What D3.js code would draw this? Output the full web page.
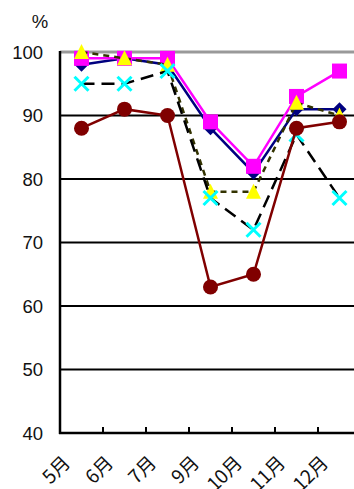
<!DOCTYPE html>
<html>
<head>
<meta charset="utf-8">
<script src="https://cdn.jsdelivr.net/npm/d3@7/dist/d3.min.js"></script>
<style>
  html, body { margin: 0; padding: 0; background: #fff; }
  svg { display: block; }
</style>
</head>
<body>
<svg id="chart" width="354" height="489"></svg>
<script>
// Monthly rates (%)
const months = ["5月", "6月", "7月", "9月", "10月", "11月", "12月"];
const yTicks = [40, 50, 60, 70, 80, 90, 100];

const navyValues    = [98, 99, 98, 88, 81, 91, 91];
const magentaValues = [99, 99, 99, 89, 82, 93, 97];
const yellowValues  = [100, 99, 98, 78, 78, 92, 90];
const cyanValues    = [95, 95, 97, 77, 72, 87, 77];
const maroonValues  = [88, 91, 90, 63, 65, 88, 89];

const svg = d3.select("#chart");
const W = 354, H = 489;
const plotLeft = 60, plotTop = 52, plotBottom = 433;

const x = d3.scaleBand().domain(months).range([plotLeft, plotLeft + 7 * 43]).padding(0);
const y = d3.scaleLinear().domain([40, 100]).range([plotBottom, plotTop]);

// Horizontal gridlines
svg.append("g")
  .selectAll("line")
  .data(yTicks.filter(t => t > 40))
  .join("line")
  .attr("x1", plotLeft).attr("x2", W)
  .attr("y1", d => y(d)).attr("y2", d => y(d))
  .attr("stroke", d => d === 100 ? "#999" : "#000")
  .attr("stroke-width", d => d === 100 ? 3 : 2);

// Y axis labels
svg.append("g")
  .selectAll("text")
  .data(yTicks)
  .join("text")
  .attr("x", 43)
  .attr("y", d => y(d) + 6.5)
  .attr("text-anchor", "end")
  .attr("font-family", "'Liberation Sans', Arial, sans-serif")
  .attr("font-size", 18.5)
  .attr("fill", "#111")
  .text(d => d);

svg.append("text")
  .attr("x", 40).attr("y", 28)
  .attr("text-anchor", "middle")
  .attr("font-family", "'Liberation Sans', Arial, sans-serif")
  .attr("font-size", 18.5)
  .attr("fill", "#111")
  .text("%");

// Axes lines
svg.append("line")
  .attr("x1", plotLeft).attr("x2", plotLeft)
  .attr("y1", plotTop - 1).attr("y2", plotBottom + 1)
  .attr("stroke", "#000").attr("stroke-width", 2.5);
svg.append("line")
  .attr("x1", plotLeft - 1).attr("x2", W)
  .attr("y1", plotBottom).attr("y2", plotBottom)
  .attr("stroke", "#000").attr("stroke-width", 2.5);

// Category boundary ticks (inside)
svg.append("g")
  .selectAll("line")
  .data(months.slice(1))
  .join("line")
  .attr("x1", d => x(d)).attr("x2", d => x(d))
  .attr("y1", plotBottom).attr("y2", plotBottom - 6)
  .attr("stroke", "#000").attr("stroke-width", 2);

// Category labels, rotated
svg.append("g")
  .selectAll("text")
  .data(months)
  .join("text")
  .attr("transform", d => `translate(${x(d) + x.bandwidth() / 2 - 10},${464}) rotate(-45)`)
  .attr("text-anchor", "end")
  .attr("font-family", "'Noto Sans CJK JP', sans-serif")
  .attr("font-size", 19)
  .attr("fill", "#111")
  .text(d => d);

const cx = d => x(d) + x.bandwidth() / 2;

function drawSeries(values, opts) {
  const pts = months.map((m, i) => [cx(m), y(values[i])]);
  const g = svg.append("g");
  g.append("path")
    .attr("d", d3.line()(pts))
    .attr("fill", "none")
    .attr("stroke", opts.lineColor)
    .attr("stroke-width", opts.lineWidth)
    .attr("stroke-dasharray", opts.dash || null);
  const sym = g.selectAll("g.m").data(pts).join("g")
    .attr("transform", p => `translate(${p[0]},${p[1]})`);
  opts.marker(sym);
}

drawSeries(navyValues, {
  lineColor: "#000080", lineWidth: 2.5,
  marker: s => s.append("path")
    .attr("d", "M0,-7L7,0L0,7L-7,0Z")
    .attr("fill", "#000080")
});

drawSeries(magentaValues, {
  lineColor: "#FF00FF", lineWidth: 2.5,
  marker: s => s.append("rect")
    .attr("x", -7.5).attr("y", -7.5).attr("width", 15).attr("height", 15)
    .attr("fill", "#FF00FF")
});

drawSeries(yellowValues, {
  lineColor: "#333300", lineWidth: 2.5, dash: "6,5",
  marker: s => s.append("path")
    .attr("d", "M0,-8L7.5,7L-7.5,7Z")
    .attr("fill", "#FFFF00")
});

drawSeries(cyanValues, {
  lineColor: "#000", lineWidth: 2.5, dash: "13,7",
  marker: s => s.append("path")
    .attr("d", "M-7,-7L7,7M7,-7L-7,7")
    .attr("stroke", "#00FFFF")
    .attr("stroke-width", 3)
    .attr("fill", "none")
});

drawSeries(maroonValues, {
  lineColor: "#800000", lineWidth: 2.5,
  marker: s => s.append("circle")
    .attr("r", 7.5)
    .attr("fill", "#800000")
});
</script>
</body>
</html>
